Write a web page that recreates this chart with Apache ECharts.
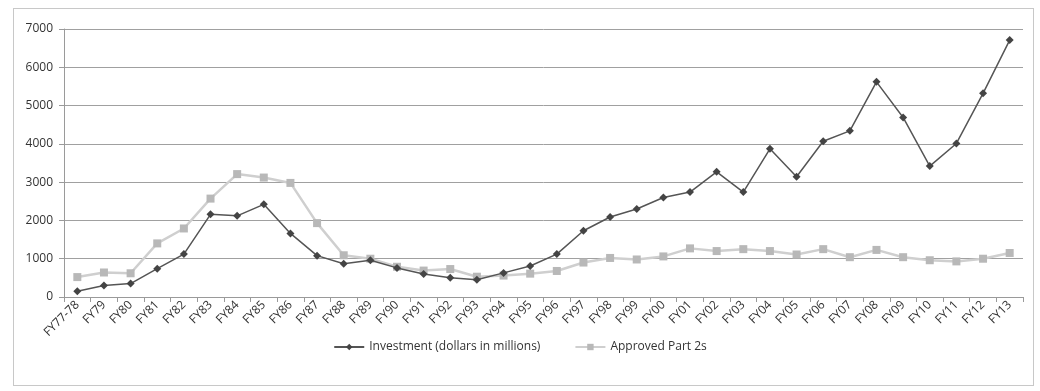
<!DOCTYPE html>
<html><head><meta charset="utf-8">
<script src="https://cdn.jsdelivr.net/npm/echarts@6/dist/echarts.min.js"></script>
<style>html,body{margin:0;padding:0;background:#fff}#c{width:1040px;height:391px}
#frame{position:absolute;left:13px;top:8px;width:1019px;height:376px;border:1px solid #c8c8c8;pointer-events:none}</style>
</head><body><div id="c"></div><div id="frame"></div>
<script>
const categories = ['FY77-78','FY79','FY80','FY81','FY82','FY83','FY84','FY85','FY86','FY87','FY88','FY89','FY90','FY91','FY92','FY93','FY94','FY95','FY96','FY97','FY98','FY99','FY00','FY01','FY02','FY03','FY04','FY05','FY06','FY07','FY08','FY09','FY10','FY11','FY12','FY13'];
const investment = [150,300,350,740,1120,2160,2120,2420,1660,1080,870,960,760,600,500,450,630,810,1120,1730,2090,2300,2600,2740,3270,2740,3870,3140,4070,4340,5620,4690,3420,4010,5320,6710];
const approved = [520,640,620,1400,1790,2570,3210,3120,2980,1930,1090,1000,790,690,730,530,560,610,680,900,1020,980,1060,1270,1200,1250,1200,1110,1250,1040,1230,1040,960,930,1000,1150];
const yTicks = [0,1000,2000,3000,4000,5000,6000,7000];

const chart = echarts.init(document.getElementById('c'));
chart.setOption({
  animation:false,
  backgroundColor:'#fff',
  textStyle:{fontFamily:'Open Sans'},
  grid:{left:64,right:17,top:29,bottom:94},
  legend:{
    bottom:33,left:'center',itemGap:34,itemWidth:30,itemHeight:8,
    textStyle:{fontFamily:'Open Sans',fontSize:12,color:'#333'},
    data:['Investment (dollars in millions)','Approved Part 2s']
  },
  xAxis:{
    type:'category',data:categories,boundaryGap:true,
    axisLine:{lineStyle:{color:'#9a9a9a',width:1}},
    axisTick:{show:true,length:5,lineStyle:{color:'#9a9a9a'}},
    axisLabel:{rotate:45,fontSize:12,color:'#333',margin:6,interval:0,fontFamily:'Open Sans'}
  },
  yAxis:{
    type:'value',min:yTicks[0],max:yTicks[yTicks.length-1],interval:1000,
    axisLine:{show:true,lineStyle:{color:'#9a9a9a'}},
    axisTick:{show:true,length:5,lineStyle:{color:'#9a9a9a'}},
    axisLabel:{fontSize:12,color:'#333',margin:11,fontFamily:'Open Sans',formatter:function(v){return String(v);}},
    splitLine:{lineStyle:{color:'#a0a0a0',width:1}}
  },
  series:[
    {name:'Approved Part 2s',type:'line',data:approved,symbol:'rect',symbolSize:8,
     lineStyle:{color:'#cfcfcf',width:2.5},itemStyle:{color:'#b8b8b8'},z:2},
    {name:'Investment (dollars in millions)',type:'line',data:investment,symbol:'diamond',symbolSize:8,
     lineStyle:{color:'#555',width:1.5},itemStyle:{color:'#444'},z:3}
  ]
});
</script></body></html>
